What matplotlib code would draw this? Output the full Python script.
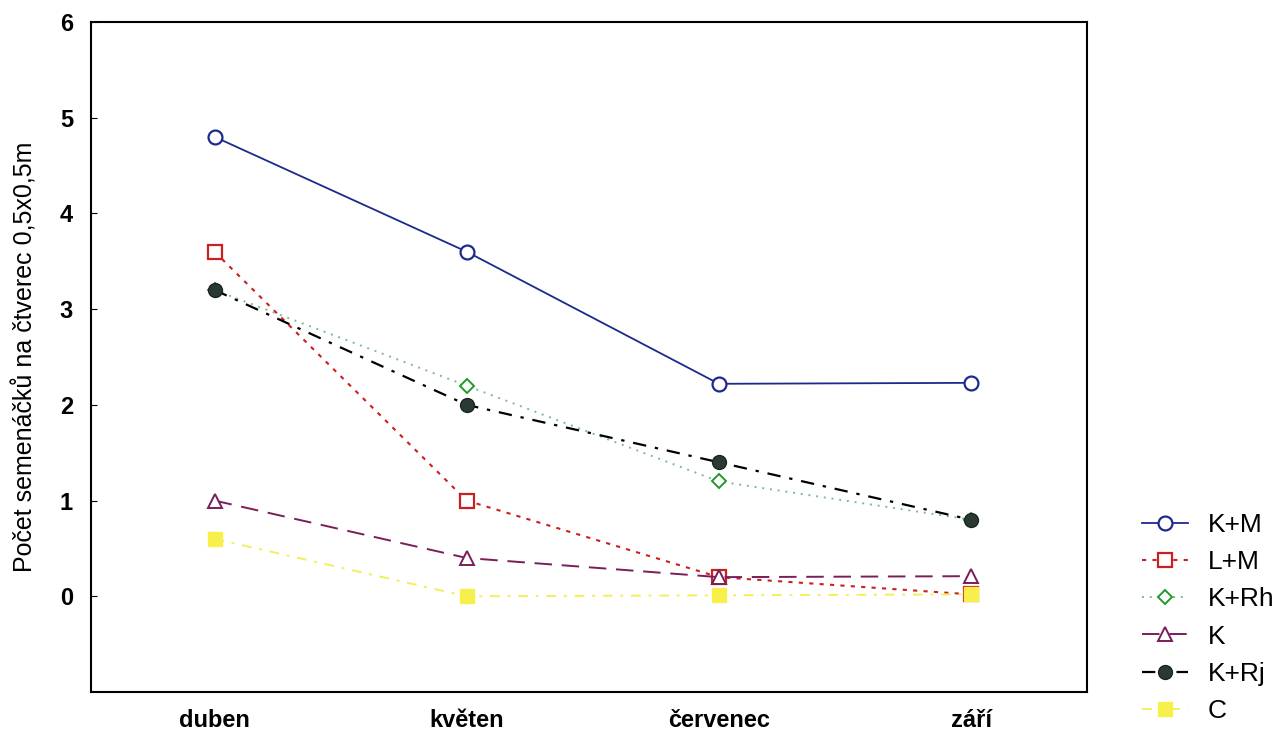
import matplotlib
matplotlib.use('Agg')
import matplotlib.pyplot as plt

plt.rcParams['font.family'] = ['Liberation Sans', 'DejaVu Sans']

months = ['duben', 'květen', 'červenec', 'září']
k_m = [4.8, 3.6, 2.22, 2.23]
l_m = [3.6, 1.0, 0.2, 0.02]
k_rh = [3.2, 2.2, 1.2, 0.8]
k = [1.0, 0.4, 0.2, 0.21]
k_rj = [3.2, 2.0, 1.4, 0.8]
c = [0.6, 0.0, 0.01, 0.02]
yticks = [0, 1, 2, 3, 4, 5, 6]

fig = plt.figure(figsize=(12.81, 7.34), dpi=100)
ax = fig.add_axes([91/1281, 1-692/734, 996/1281, 670/734])
x = range(len(months))

ax.plot(x, k_m, color='#1c2a8c', linestyle='-', lw=1.3, marker='o', ms=10,
        mfc='white', mec='#1c2a8c', mew=1.6, label='K+M')
ax.plot(x, l_m, color='#cc1f1f', linestyle=(0, (2, 3)), lw=1.5, marker='s', ms=10,
        mfc='white', mec='#cc1f1f', mew=1.6, label='L+M')
ax.plot(x, k_rh, color='#7fb79a', linestyle=(0, (1, 3)), lw=1.4, marker='D', ms=7,
        mfc='white', mec='#1f9a2a', mew=1.4, label='K+Rh')
ax.plot(x, k, color='#7a1d5a', linestyle=(0, (9, 5)), lw=1.4, marker='^', ms=10,
        mfc='white', mec='#7a1d5a', mew=1.4, label='K')
ax.plot(x, k_rj, color='black', linestyle=(0, (6, 4, 1.5, 4)), lw=1.6, marker='o', ms=10,
        mfc='#2a3a33', mec='#1a2520', mew=1.0, label='K+Rj')
ax.plot(x, c, color='#f3ef5a', linestyle=(0, (5, 4, 1.5, 4)), lw=1.4, marker='s', ms=10,
        mfc='#f7f04a', mec='#f7f04a', label='C')

ax.set_xlim(-0.49, 3.46)
ax.set_ylim(-1, 6)
ax.set_xticks(list(x))
ax.set_xticklabels(months, fontsize=17, fontweight='bold')
ax.set_yticks(yticks)
ax.set_yticklabels([str(t) for t in yticks], fontsize=17, fontweight='bold')
ax.tick_params(axis='y', direction='in', length=4, pad=13)
ax.tick_params(axis='x', length=0, pad=12)
for s in ax.spines.values():
    s.set_linewidth(1.5)
ax.set_ylabel('Počet semenáčků na čtverec 0,5x0,5m', fontsize=18)
ax.yaxis.set_label_coords(-0.054, 0.5)

fig.legend(*ax.get_legend_handles_labels(), loc='lower left',
           bbox_to_anchor=(1142/1281, 0.015), frameon=False,
           fontsize=19, handlelength=1.75, labelspacing=0.5, handletextpad=0.75,
           borderpad=0, borderaxespad=0)

fig.savefig('out.png', dpi=100)
